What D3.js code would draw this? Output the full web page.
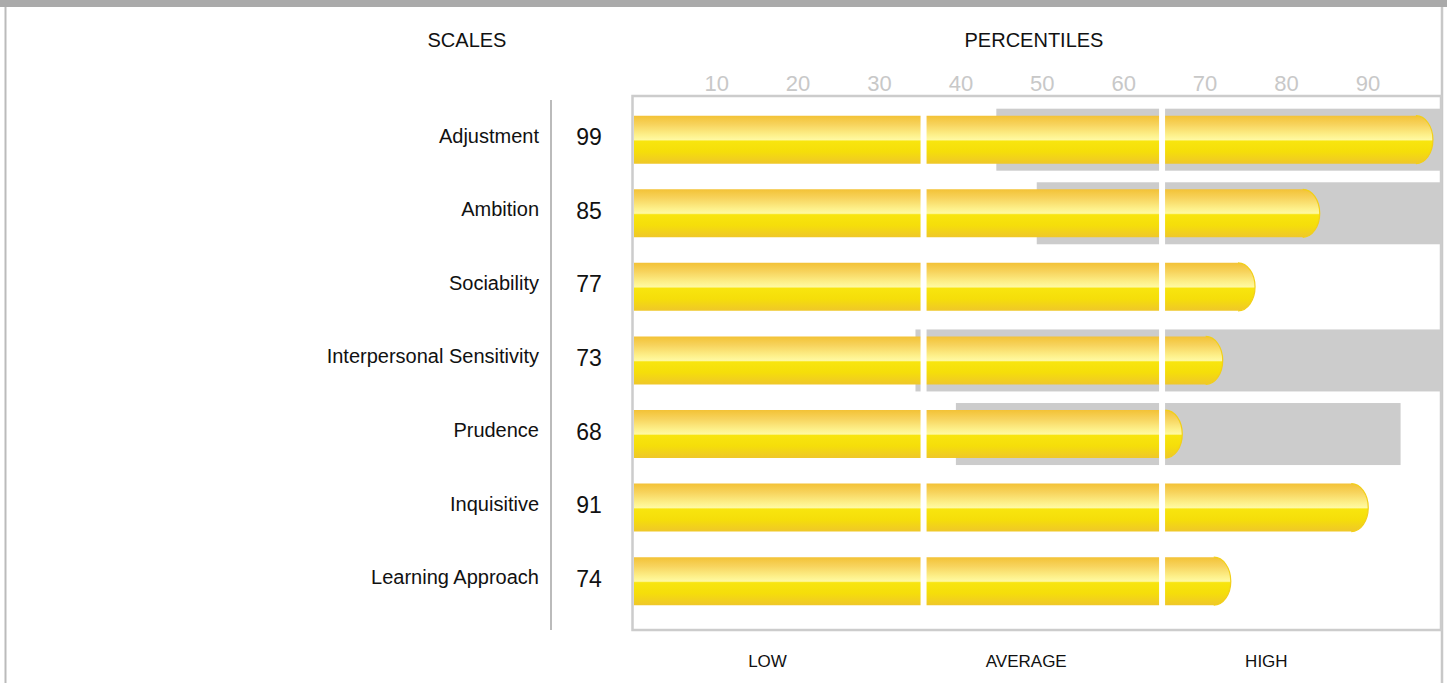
<!DOCTYPE html>
<html>
<head>
<meta charset="utf-8">
<script src="https://cdn.jsdelivr.net/npm/d3@7"></script>
<style>
  body { margin: 0; background: #fff; }
  svg { display: block; font-family: Arial, "Liberation Sans", sans-serif; }
</style>
</head>
<body>
<div id="chart"></div>
<script>
const width = 1447;
const height = 683;

// data
const scales = ["Adjustment", "Ambition", "Sociability", "Interpersonal Sensitivity", "Prudence", "Inquisitive", "Learning Approach"];
const percentiles = [99, 85, 77, 73, 68, 91, 74];
// grey target ranges (null = none)
const rangeLow = [45, 50, null, 35, 40, null, null];
const rangeHigh = [100, 100, null, 100, 95, null, null];
const tickValues = [10, 20, 30, 40, 50, 60, 70, 80, 90];
const zoneCuts = [36, 65.5];
const zoneNames = ["LOW", "AVERAGE", "HIGH"];
const zoneLabelAt = [16.7, 48.7, 78.4];

const rows = scales.map((s, i) => ({
  name: s, value: percentiles[i], lo: rangeLow[i], hi: rangeHigh[i]
}));

const svg = d3.select("#chart")
  .append("svg")
  .attr("width", width)
  .attr("height", height);

const plot = { left: 632.5, right: 1441, top: 96, bottom: 630 };

const x = d3.scaleLinear().domain([0, 100]).range([plot.left, plot.right]);
// tick labels sit a touch wider than the bars
const xLabel = d3.scaleLinear().domain([0, 100]).range([635.3, 1449.3]);
const y = d3.scaleBand().domain(scales).range([102.9, 618]);

const barH = 48;
const rangeH = 62;

// gradient for the bars
const defs = svg.append("defs");
const grad = defs.append("linearGradient")
  .attr("id", "barGrad")
  .attr("x1", 0).attr("y1", 0).attr("x2", 0).attr("y2", 1);
[
  [0, "#f3c236"], [0.18, "#f7d35c"], [0.4, "#fdf08a"], [0.5, "#fff9a2"],
  [0.53, "#f8e50e"], [0.75, "#f5de0a"], [1, "#efc72a"]
].forEach(s => grad.append("stop").attr("offset", s[0]).attr("stop-color", s[1]));

// outer frame
svg.append("rect").attr("x", 0).attr("y", 0).attr("width", width).attr("height", 7).attr("fill", "#aaaaaa");
svg.append("line").attr("x1", 5.5).attr("x2", 5.5).attr("y1", 7).attr("y2", height)
  .attr("stroke", "#bbbbbb").attr("stroke-width", 2);
svg.append("line").attr("x1", 1442).attr("x2", 1442).attr("y1", 7).attr("y2", height)
  .attr("stroke", "#c8c8c8").attr("stroke-width", 2.5);

// headers
svg.append("text").attr("x", 467).attr("y", 47).attr("text-anchor", "middle")
  .attr("font-size", 20).attr("fill", "#111").text("SCALES");
svg.append("text").attr("x", 1034).attr("y", 47).attr("text-anchor", "middle")
  .attr("font-size", 20).attr("fill", "#111").text("PERCENTILES");

// tick labels
svg.append("g").selectAll("text")
  .data(tickValues)
  .enter()
  .append("text")
  .attr("x", d => xLabel(d))
  .attr("y", 91)
  .attr("text-anchor", "middle")
  .attr("font-size", 22)
  .attr("fill", "#c8c8c8")
  .text(d => d);

// separator line between labels and values
svg.append("line").attr("x1", 551).attr("x2", 551).attr("y1", 100).attr("y2", 630)
  .attr("stroke", "#bbbbbb").attr("stroke-width", 2);

// scale names
svg.append("g").selectAll("text")
  .data(rows)
  .enter()
  .append("text")
  .attr("x", 539)
  .attr("y", d => y(d.name) + y.bandwidth() / 2 + 3)
  .attr("text-anchor", "end")
  .attr("font-size", 20)
  .attr("fill", "#111")
  .text(d => d.name);

// values
svg.append("g").selectAll("text")
  .data(rows)
  .enter()
  .append("text")
  .attr("x", 589)
  .attr("y", d => y(d.name) + y.bandwidth() / 2 + 5.5)
  .attr("text-anchor", "middle")
  .attr("font-size", 23)
  .attr("fill", "#111")
  .text(d => d.value);

// grey ranges
svg.append("g").selectAll("rect")
  .data(rows.filter(d => d.lo != null))
  .enter()
  .append("rect")
  .attr("x", d => x(d.lo))
  .attr("y", d => y(d.name) + y.bandwidth() / 2 - rangeH / 2)
  .attr("width", d => x(d.hi) - x(d.lo))
  .attr("height", rangeH)
  .attr("fill", "#cccccc");

// bars with rounded right end
function barPath(d) {
  const x0 = x(0) + 1.5;
  const x1 = x(d.value);
  const cy = y(d.name) + y.bandwidth() / 2;
  const ry = barH / 2;
  const rx = 17;
  return `M${x0},${cy - ry}H${x1 - rx}A${rx},${ry} 0 0 1 ${x1},${cy}A${rx},${ry} 0 0 1 ${x1 - rx},${cy + ry}H${x0}Z`;
}
function endPath(d) {
  const x1 = x(d.value);
  const cy = y(d.name) + y.bandwidth() / 2;
  const ry = barH / 2;
  const rx = 17;
  return `M${x1 - rx},${cy - ry}A${rx},${ry} 0 0 1 ${x1},${cy}A${rx},${ry} 0 0 1 ${x1 - rx},${cy + ry}`;
}

const bars = svg.append("g");
bars.selectAll("path.bar")
  .data(rows)
  .enter()
  .append("path")
  .attr("class", "bar")
  .attr("d", barPath)
  .attr("fill", "url(#barGrad)");
bars.selectAll("path.end")
  .data(rows)
  .enter()
  .append("path")
  .attr("class", "end")
  .attr("d", endPath)
  .attr("fill", "none")
  .attr("stroke", "#f2cf18")
  .attr("stroke-width", 1.2);

// white zone dividers
svg.append("g").selectAll("line")
  .data(zoneCuts)
  .enter()
  .append("line")
  .attr("x1", d => x(d)).attr("x2", d => x(d))
  .attr("y1", plot.top + 2).attr("y2", plot.bottom - 2)
  .attr("stroke", "#fff")
  .attr("stroke-width", 6);

// plot box
svg.append("rect")
  .attr("x", plot.left)
  .attr("y", plot.top)
  .attr("width", plot.right - plot.left)
  .attr("height", plot.bottom - plot.top)
  .attr("fill", "none")
  .attr("stroke", "#cccccc")
  .attr("stroke-width", 2.5);

// zone labels
svg.append("g").selectAll("text")
  .data(zoneNames)
  .enter()
  .append("text")
  .attr("x", (d, i) => x(zoneLabelAt[i]))
  .attr("y", 667)
  .attr("text-anchor", "middle")
  .attr("font-size", 17)
  .attr("fill", "#111")
  .text(d => d);
</script>
</body>
</html>
